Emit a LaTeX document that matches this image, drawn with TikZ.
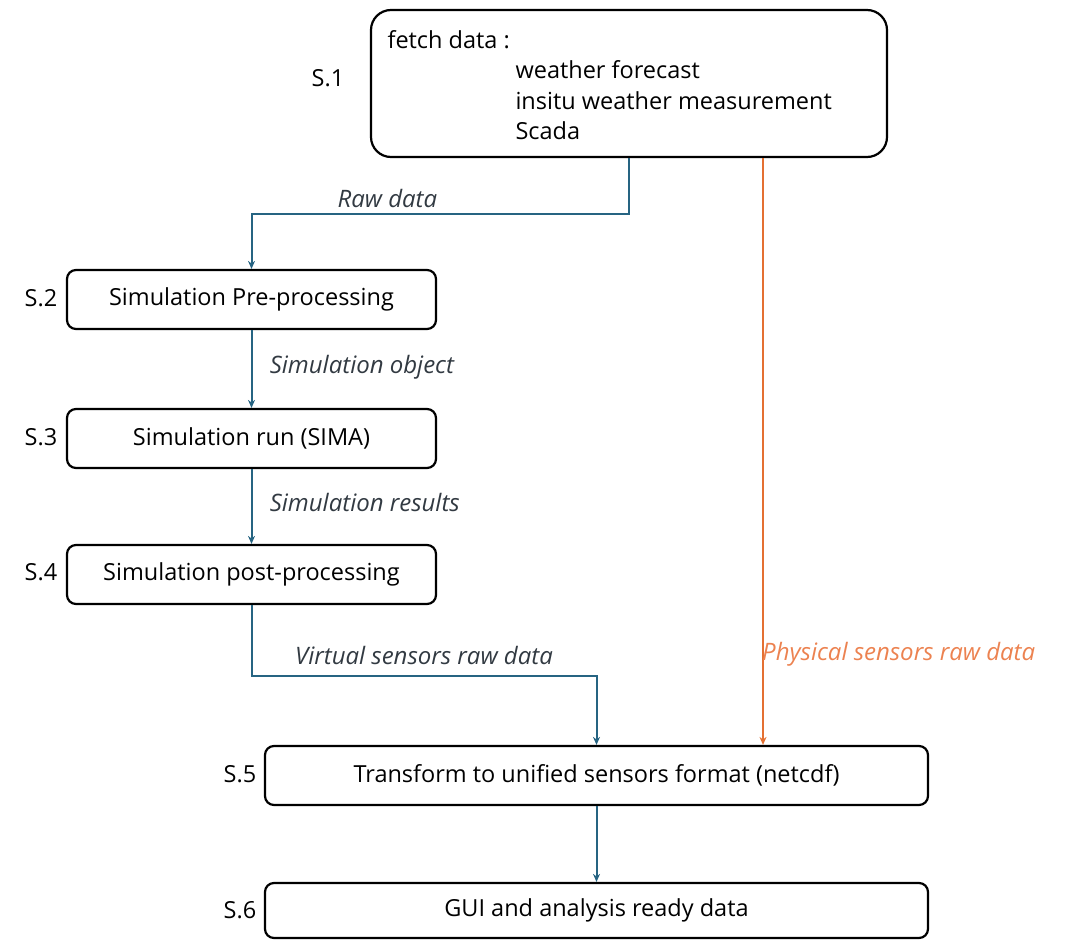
\documentclass[tikz,border=0pt]{standalone}
\usepackage{fontspec}
\setmainfont{Open Sans}
\usetikzlibrary{arrows.meta}
\definecolor{flowblue}{RGB}{38,100,130}
\definecolor{physorange}{RGB}{228,112,50}
\definecolor{phystext}{RGB}{236,130,80}
\definecolor{labelgrey}{RGB}{50,58,66}
\begin{document}
\begin{tikzpicture}[x=1pt, y=-1pt,
    stepbox/.style={draw, line width=2.2pt, rounded corners=9pt, minimum height=59pt, inner sep=0pt, font=\fontsize{23.5}{28}\selectfont},
    steplabel/.style={font=\fontsize{23.5}{28}\selectfont},
    flow/.style={draw=flowblue, line width=2pt, -{Stealth[length=8pt, width=7pt]}},
    phys/.style={draw=physorange, line width=1.8pt, -{Stealth[length=8pt, width=7pt]}},
    flowlabel/.style={font=\fontsize{24}{28}\selectfont\itshape, text=labelgrey}]
        \useasboundingbox (0,0) rectangle (1071,940);

        % nodes
        \node (s1) [stepbox, rounded corners=20pt, minimum width=516pt, minimum height=147pt] at (629,83.5) {};
        \node (fetch) [steplabel, anchor=west] at (384,40) {fetch data :};
        \node (forecast) [steplabel, anchor=west] at (512,70) {weather forecast};
        \node (insitu) [steplabel, anchor=west] at (512,101) {insitu weather measurement};
        \node (scada) [steplabel, anchor=west] at (512,131) {Scada};
        \node (s2) [stepbox, minimum width=369pt] at (251.5,299.5) {Simulation Pre-processing};
        \node (s3) [stepbox, minimum width=369pt] at (251.5,438.5) {Simulation run (SIMA)};
        \node (s4) [stepbox, minimum width=369pt] at (251.5,574.5) {Simulation post-processing};
        \node (s5) [stepbox, minimum width=663pt] at (596.5,775.5) {Transform to unified sensors format (netcdf)};
        \node (s6) [stepbox, minimum width=663pt, minimum height=55pt] at (596.5,910.5) {GUI and analysis ready data};

        % step numbers
        \node (n1) [steplabel] at (328,78) {S.1};
        \node (n2) [steplabel] at (41,298) {S.2};
        \node (n3) [steplabel] at (41,437) {S.3};
        \node (n4) [steplabel] at (41,572) {S.4};
        \node (n5) [steplabel] at (240,774) {S.5};
        \node (n6) [steplabel] at (240,910) {S.6};

        % edges
        \draw[flow] (s1.south) -- ++(0,56) -| node[flowlabel, pos=0.32, above, yshift=2pt] {Raw data} (s2.north);
        \draw[flow] (s2) -- node[flowlabel, right, xshift=14pt, yshift=2pt] {Simulation object} (s3);
        \draw[flow] (s3) -- node[flowlabel, right, xshift=14pt, yshift=4pt] {Simulation results} (s4);
        \draw[flow] (s4.south) -- ++(0,71) -| node[flowlabel, pos=0.25, above, yshift=7pt] {Virtual sensors raw data} (s5.north);
        \draw[phys] ([xshift=134pt]s1.south) -- node[flowlabel, text=phystext, pos=0.845, right, xshift=-5pt] {Physical sensors raw data} ([xshift=134pt]s1.south |- s5.north);
        \draw[flow] (s5) -- (s6);
    \end{tikzpicture}
\end{document}
